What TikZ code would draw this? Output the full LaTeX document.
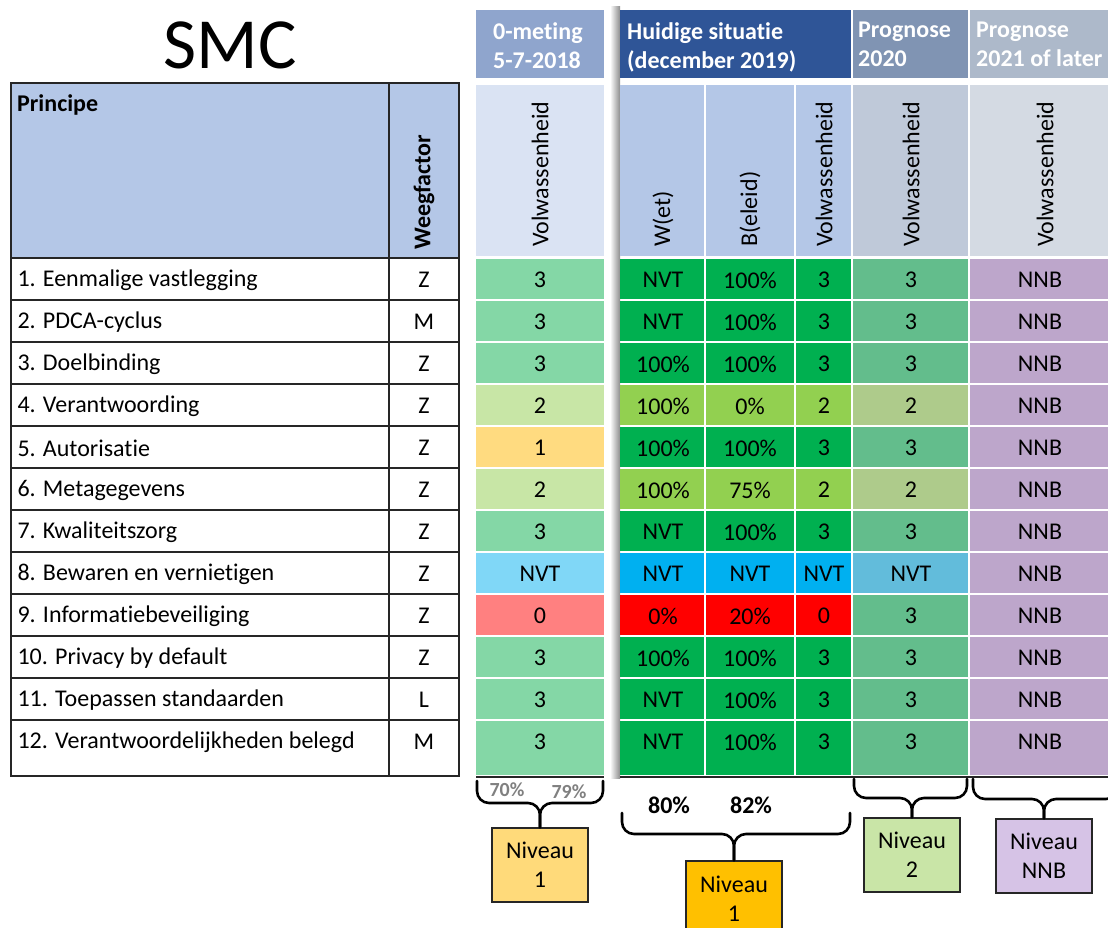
\documentclass[tikz,border=0pt]{standalone}
\usepackage{fontspec}
\setmainfont[Ligatures=NoCommon]{Carlito}
\newcommand{\basefont}{\fontsize{24}{29}\selectfont}

\definecolor{hdrblue}{HTML}{B4C7E7}
\definecolor{mhead}{HTML}{8FA5CD}
\definecolor{msub}{HTML}{DAE3F3}
\definecolor{hhead}{HTML}{2F5597}
\definecolor{phead}{HTML}{8094B3}
\definecolor{psub}{HTML}{BFC9D9}
\definecolor{qhead}{HTML}{ADB9CA}
\definecolor{qsub}{HTML}{D4DAE3}
\definecolor{m3}{HTML}{84D7A6}
\definecolor{m2}{HTML}{C8E6A6}
\definecolor{m1}{HTML}{FFDB80}
\definecolor{mN}{HTML}{80D7F7}
\definecolor{m0}{HTML}{FF8080}
\definecolor{h3}{HTML}{00B050}
\definecolor{h2}{HTML}{92D050}
\definecolor{hN}{HTML}{00B0F0}
\definecolor{h0}{HTML}{FF0000}
\definecolor{p3}{HTML}{63BD8C}
\definecolor{p2}{HTML}{AECB8B}
\definecolor{pN}{HTML}{62BCDB}
\definecolor{nnb}{HTML}{BDA6CB}
\definecolor{nivyel}{HTML}{FFDA7A}
\definecolor{nivorange}{HTML}{FFC000}
\definecolor{nivgreen}{HTML}{C9E5A7}
\definecolor{nivlila}{HTML}{D6C3E6}

\tikzset{
  tline/.style={line width=1.5pt, black!85},
  boldtext/.style={font=\basefont\bfseries},
  hdrtext/.style={boldtext, text=white, align=left, anchor=north west, inner sep=0pt},
  vertlabel/.style={rotate=90, anchor=west, inner sep=0pt},
  nivbox/.style={draw=black!85, line width=1.3pt, minimum width=96, align=center},
  bracepath/.style={line width=2.6pt, rounded corners=12, line cap=round},
}

\begin{document}
\begin{tikzpicture}[x=1pt,y=-1pt,font=\basefont]
\useasboundingbox (0,0) rectangle (1108,927);

\node (title) at (230,45) {\fontsize{72}{80}\selectfont SMC};

% linker tabel
\fill[hdrblue] (11,83) rectangle (459,258);
\node[anchor=north west, boldtext, inner sep=0pt] (princ) at (17,94) {Principe};
\node[vertlabel, boldtext] (weeg) at (424,250) {Weegfactor};

% kolomkoppen
\fill[mhead] (476,10) rectangle (604,78);
\node[hdrtext] (mhdr) at (493,22) {0-meting\\5-7-2018};
\fill[msub] (476,85) rectangle (604,256);
\node[vertlabel] (mvol) at (540,247) {Volwassenheid};

\shade[left color=white, right color=black!45] (610,6) rectangle (620,778);
\fill[hhead] (620,10) rectangle (851,78);
\node[hdrtext] (hhdr) at (627,22) {Huidige situatie\\(december 2019)};
\fill[phead] (853,10) rectangle (968,78);
\node[hdrtext] (phdr) at (858,22) {Prognose\\2020};
\fill[qhead] (970,10) rectangle (1110,78);
\node[hdrtext] (qhdr) at (976,22) {Prognose\\2021 of later};

\fill[hdrblue] (620,85) rectangle (704,256);
\fill[hdrblue] (706,85) rectangle (794,256);
\fill[hdrblue] (796,85) rectangle (851,256);
\fill[psub] (853,85) rectangle (968,256);
\fill[qsub] (970,85) rectangle (1110,256);
\node[vertlabel] (wet) at (663,247) {W(et)};
\node[vertlabel] (bel) at (750,247) {B(eleid)};
\node[vertlabel] (hvol) at (824,247) {Volwassenheid};
\node[vertlabel] (pvol) at (911,247) {Volwassenheid};
\node[vertlabel] (qvol) at (1045,247) {Volwassenheid};

% rijen
\foreach \r/\txt/\wf/\mv/\mc/\wv/\bv/\hv/\hc/\pv/\pc in {
  1/{Eenmalige vastlegging}/Z/3/m3/NVT/100\%/3/h3/3/p3,
  2/{PDCA-cyclus}/M/3/m3/NVT/100\%/3/h3/3/p3,
  3/{Doelbinding}/Z/3/m3/100\%/100\%/3/h3/3/p3,
  4/{Verantwoording}/Z/2/m2/100\%/0\%/2/h2/2/p2,
  5/{Autorisatie}/Z/1/m1/100\%/100\%/3/h3/3/p3,
  6/{Metagegevens}/Z/2/m2/100\%/75\%/2/h2/2/p2,
  7/{Kwaliteitszorg}/Z/3/m3/NVT/100\%/3/h3/3/p3,
  8/{Bewaren en vernietigen}/Z/NVT/mN/NVT/NVT/NVT/hN/NVT/pN,
  9/{Informatiebeveiliging}/Z/0/m0/0\%/20\%/0/h0/3/p3,
  10/{Privacy by default}/Z/3/m3/100\%/100\%/3/h3/3/p3,
  11/{Toepassen standaarden}/L/3/m3/NVT/100\%/3/h3/3/p3,
  12/{Verantwoordelijkheden belegd}/M/3/m3/NVT/100\%/3/h3/3/p3}{
  \pgfmathsetmacro{\yt}{258+42*(\r-1)}
  \pgfmathsetmacro{\yb}{\r==12 ? 776 : 258+42*\r}
  \pgfmathsetmacro{\yc}{\yt+22}
  \node[anchor=west] (p\r) at (14,\yc) {\r. \txt};
  \node (wf\r) at (424,\yc) {\wf};
  \fill[\mc] (476,\yt+1) rectangle (604,\yb-1);
  \node (m\r) at (540,\yc) {\mv};
  \fill[\hc] (620,\yt+1) rectangle (704,\yb-1);
  \fill[\hc] (706,\yt+1) rectangle (794,\yb-1);
  \fill[\hc] (796,\yt+1) rectangle (851,\yb-1);
  \node (w\r) at (663,\yc) {\wv};
  \node (b\r) at (750,\yc) {\bv};
  \node (h\r) at (824,\yc) {\hv};
  \fill[\pc] (853,\yt+1) rectangle (968,\yb-1);
  \node (pr\r) at (911,\yc) {\pv};
  \fill[nnb] (970,\yt+1) rectangle (1110,\yb-1);
  \node (q\r) at (1040,\yc) {NNB};
  \draw[tline] (11,\yb) -- (459,\yb);
}

\draw[tline] (11,83) rectangle (459,776);
\draw[tline] (389,83) -- (389,776);
\draw[tline] (11,258) -- (459,258);
\draw[line width=2pt, black!85] (476,777) -- (604,777);
\draw[line width=2pt, black!85] (620,777) -- (1110,777);

% niveaus
\node[nivbox, fill=nivyel, minimum height=74] (niv0) at (540,865) {Niveau\\1};
\node[nivbox, fill=nivorange, minimum height=76] (nivh) at (734,899) {Niveau\\1};
\node[nivbox, fill=nivgreen, minimum height=74] (nivp) at (912,855) {Niveau\\2};
\node[nivbox, fill=nivlila, minimum height=74] (nivq) at (1044,856) {Niveau\\NNB};

\coordinate (b0l) at (477,781);
\coordinate (b0r) at (603,781);
\coordinate (b0m) at (540,803);
\draw[bracepath] (b0l) |- (b0m) -- (niv0.north);
\draw[bracepath] (b0r) |- (b0m) -- (niv0.north);

\coordinate (bhl) at (622,813);
\coordinate (bhr) at (850,813);
\coordinate (bhm) at (734,834);
\draw[bracepath] (bhl) |- (bhm) -- (nivh.north);
\draw[bracepath] (bhr) |- (bhm) -- (nivh.north);

\coordinate (bpl) at (854,779);
\coordinate (bpr) at (967,779);
\coordinate (bpm) at (912,798);
\draw[bracepath] (bpl) |- (bpm) -- (nivp.north);
\draw[bracepath] (bpr) |- (bpm) -- (nivp.north);

\coordinate (bql) at (973,779);
\coordinate (bqr) at (1118,779);
\coordinate (bqm) at (1044,799);
\draw[bracepath] (bql) |- (bqm) -- (nivq.north);
\draw[bracepath] (bqr) |- (bqm) -- (nivq.north);

\node[font=\fontsize{20}{24}\selectfont\bfseries, text=black!50] (pc70) at (507,790) {70\%};
\node[font=\fontsize{20}{24}\selectfont\bfseries, text=black!50] (pc79) at (569,792) {79\%};
\node[boldtext] (pc80) at (669,805) {80\%};
\node[boldtext] (pc82) at (751,805) {82\%};

\end{tikzpicture}
\end{document}
